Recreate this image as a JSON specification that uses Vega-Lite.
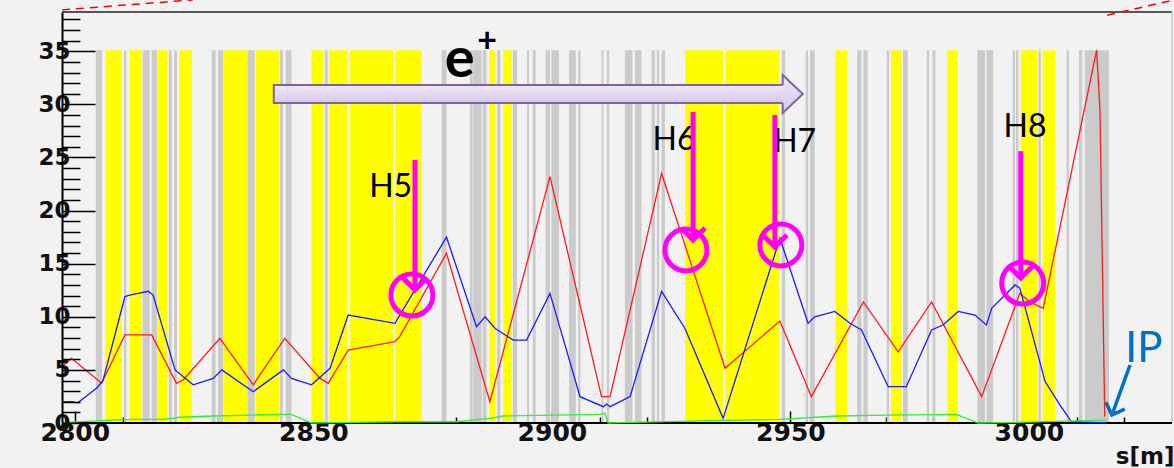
{
  "$schema": "https://vega.github.io/schema/vega-lite/v6.json",
  "width": 1110,
  "height": 411,
  "autosize": {"type": "none"},
  "padding": {"left": 62, "top": 12, "right": 2, "bottom": 45},
  "background": "#f2f2f2",
  "view": {"stroke": null, "fill": "#f2f2f2"},
  "datasets": {
    "bandlist": [
      {"s": 2804.4, "s2": 2805.7, "lo": 0, "hi": 35.1, "kind": "gray"},
      {"s": 2806.4, "s2": 2809.8, "lo": 0, "hi": 35.1, "kind": "yellow"},
      {"s": 2810.3, "s2": 2810.8, "lo": 0, "hi": 35.1, "kind": "gray"},
      {"s": 2811.5, "s2": 2814.0, "lo": 0, "hi": 35.1, "kind": "yellow"},
      {"s": 2814.2, "s2": 2815.7, "lo": 0, "hi": 35.1, "kind": "gray"},
      {"s": 2816.1, "s2": 2817.2, "lo": 0, "hi": 35.1, "kind": "gray"},
      {"s": 2817.3, "s2": 2819.4, "lo": 0, "hi": 35.1, "kind": "yellow"},
      {"s": 2819.7, "s2": 2820.3, "lo": 0, "hi": 35.1, "kind": "gray"},
      {"s": 2820.8, "s2": 2821.4, "lo": 0, "hi": 35.1, "kind": "gray"},
      {"s": 2821.9, "s2": 2824.5, "lo": 0, "hi": 35.1, "kind": "yellow"},
      {"s": 2828.7, "s2": 2829.5, "lo": 0, "hi": 35.1, "kind": "gray"},
      {"s": 2830.0, "s2": 2831.1, "lo": 0, "hi": 35.1, "kind": "gray"},
      {"s": 2831.2, "s2": 2836.2, "lo": 0, "hi": 35.1, "kind": "yellow"},
      {"s": 2836.2, "s2": 2837.7, "lo": 0, "hi": 35.1, "kind": "gray"},
      {"s": 2837.9, "s2": 2842.8, "lo": 0, "hi": 35.1, "kind": "yellow"},
      {"s": 2843.0, "s2": 2843.6, "lo": 0, "hi": 35.1, "kind": "gray"},
      {"s": 2844.2, "s2": 2845.4, "lo": 0, "hi": 35.1, "kind": "gray"},
      {"s": 2849.6, "s2": 2852.1, "lo": 0, "hi": 35.1, "kind": "yellow"},
      {"s": 2852.4, "s2": 2853.0, "lo": 0, "hi": 35.1, "kind": "gray"},
      {"s": 2853.3, "s2": 2857.1, "lo": 0, "hi": 35.1, "kind": "yellow"},
      {"s": 2857.7, "s2": 2866.7, "lo": 0, "hi": 35.1, "kind": "yellow"},
      {"s": 2867.2, "s2": 2872.7, "lo": 0, "hi": 35.1, "kind": "yellow"},
      {"s": 2876.9, "s2": 2877.9, "lo": 0, "hi": 35.1, "kind": "gray"},
      {"s": 2882.8, "s2": 2883.4, "lo": 0, "hi": 35.1, "kind": "gray"},
      {"s": 2883.5, "s2": 2885.3, "lo": 0, "hi": 35.1, "kind": "gray"},
      {"s": 2885.5, "s2": 2886.3, "lo": 0, "hi": 35.1, "kind": "gray"},
      {"s": 2886.9, "s2": 2888.1, "lo": 0, "hi": 35.1, "kind": "yellow"},
      {"s": 2888.5, "s2": 2889.2, "lo": 0, "hi": 35.1, "kind": "gray"},
      {"s": 2889.8, "s2": 2891.6, "lo": 0, "hi": 35.1, "kind": "yellow"},
      {"s": 2891.8, "s2": 2892.7, "lo": 0, "hi": 35.1, "kind": "gray"},
      {"s": 2894.8, "s2": 2895.2, "lo": 0, "hi": 35.1, "kind": "gray"},
      {"s": 2896.0, "s2": 2896.6, "lo": 0, "hi": 35.1, "kind": "gray"},
      {"s": 2898.7, "s2": 2899.6, "lo": 0, "hi": 35.1, "kind": "gray"},
      {"s": 2899.9, "s2": 2901.5, "lo": 0, "hi": 35.1, "kind": "gray"},
      {"s": 2903.6, "s2": 2905.0, "lo": 0, "hi": 35.1, "kind": "gray"},
      {"s": 2905.5, "s2": 2906.0, "lo": 0, "hi": 35.1, "kind": "gray"},
      {"s": 2910.4, "s2": 2910.8, "lo": 0, "hi": 35.1, "kind": "gray"},
      {"s": 2911.5, "s2": 2912.0, "lo": 0, "hi": 35.1, "kind": "gray"},
      {"s": 2915.3, "s2": 2916.9, "lo": 0, "hi": 35.1, "kind": "gray"},
      {"s": 2917.4, "s2": 2918.8, "lo": 0, "hi": 35.1, "kind": "gray"},
      {"s": 2920.9, "s2": 2921.6, "lo": 0, "hi": 35.1, "kind": "gray"},
      {"s": 2922.0, "s2": 2922.5, "lo": 0, "hi": 35.1, "kind": "gray"},
      {"s": 2923.0, "s2": 2923.7, "lo": 0, "hi": 35.1, "kind": "gray"},
      {"s": 2927.9, "s2": 2935.9, "lo": 0, "hi": 35.1, "kind": "yellow"},
      {"s": 2936.4, "s2": 2947.6, "lo": 0, "hi": 35.1, "kind": "yellow"},
      {"s": 2948.2, "s2": 2948.9, "lo": 0, "hi": 35.1, "kind": "gray"},
      {"s": 2953.2, "s2": 2953.7, "lo": 0, "hi": 35.1, "kind": "gray"},
      {"s": 2954.1, "s2": 2955.1, "lo": 0, "hi": 35.1, "kind": "gray"},
      {"s": 2959.5, "s2": 2961.9, "lo": 0, "hi": 35.1, "kind": "yellow"},
      {"s": 2964.0, "s2": 2964.9, "lo": 0, "hi": 35.1, "kind": "gray"},
      {"s": 2965.3, "s2": 2966.2, "lo": 0, "hi": 35.1, "kind": "gray"},
      {"s": 2970.2, "s2": 2970.7, "lo": 0, "hi": 35.1, "kind": "gray"},
      {"s": 2971.1, "s2": 2973.3, "lo": 0, "hi": 35.1, "kind": "yellow"},
      {"s": 2973.6, "s2": 2974.6, "lo": 0, "hi": 35.1, "kind": "gray"},
      {"s": 2978.6, "s2": 2979.1, "lo": 0, "hi": 35.1, "kind": "gray"},
      {"s": 2979.8, "s2": 2980.4, "lo": 0, "hi": 35.1, "kind": "gray"},
      {"s": 2982.9, "s2": 2985.0, "lo": 0, "hi": 35.1, "kind": "yellow"},
      {"s": 2989.2, "s2": 2990.8, "lo": 0, "hi": 35.1, "kind": "gray"},
      {"s": 2991.1, "s2": 2992.5, "lo": 0, "hi": 35.1, "kind": "gray"},
      {"s": 2996.6, "s2": 2997.1, "lo": 0, "hi": 35.1, "kind": "gray"},
      {"s": 2997.3, "s2": 2997.8, "lo": 0, "hi": 35.1, "kind": "gray"},
      {"s": 2998.3, "s2": 3001.7, "lo": 0, "hi": 35.1, "kind": "yellow"},
      {"s": 3002.0, "s2": 3002.5, "lo": 0, "hi": 35.1, "kind": "gray"},
      {"s": 3002.9, "s2": 3005.5, "lo": 0, "hi": 35.1, "kind": "yellow"},
      {"s": 3007.9, "s2": 3008.4, "lo": 0, "hi": 35.1, "kind": "gray"},
      {"s": 3010.5, "s2": 3011.2, "lo": 0, "hi": 35.1, "kind": "gray"},
      {"s": 3011.7, "s2": 3016.8, "lo": 0, "hi": 35.1, "kind": "gray"}
    ],
    "optics": [
      {"series": "betaX", "s": 2797.3, "v": 5.3},
      {"series": "betaX", "s": 2799.3, "v": 6.09},
      {"series": "betaX", "s": 2805.6, "v": 3.74},
      {"series": "betaX", "s": 2810.5, "v": 8.29},
      {"series": "betaX", "s": 2816.1, "v": 8.29},
      {"series": "betaX", "s": 2821.3, "v": 3.74},
      {"series": "betaX", "s": 2822.7, "v": 4.05},
      {"series": "betaX", "s": 2830.4, "v": 7.97},
      {"series": "betaX", "s": 2837.4, "v": 3.6},
      {"series": "betaX", "s": 2844.0, "v": 7.97},
      {"series": "betaX", "s": 2851.4, "v": 4.2},
      {"series": "betaX", "s": 2853.1, "v": 3.74},
      {"series": "betaX", "s": 2857.3, "v": 6.87},
      {"series": "betaX", "s": 2867.1, "v": 7.66},
      {"series": "betaX", "s": 2868.1, "v": 8.13},
      {"series": "betaX", "s": 2877.9, "v": 15.98},
      {"series": "betaX", "s": 2887.0, "v": 2.0},
      {"series": "betaX", "s": 2899.6, "v": 23.2},
      {"series": "betaX", "s": 2910.4, "v": 2.48},
      {"series": "betaX", "s": 2912.2, "v": 2.48},
      {"series": "betaX", "s": 2923.0, "v": 23.5},
      {"series": "betaX", "s": 2936.3, "v": 5.15},
      {"series": "betaX", "s": 2947.8, "v": 9.6},
      {"series": "betaX", "s": 2954.4, "v": 2.48},
      {"series": "betaX", "s": 2965.3, "v": 11.4},
      {"series": "betaX", "s": 2972.6, "v": 6.7},
      {"series": "betaX", "s": 2979.6, "v": 11.4},
      {"series": "betaX", "s": 2990.1, "v": 2.48},
      {"series": "betaX", "s": 2998.1, "v": 12.2},
      {"series": "betaX", "s": 3000.2, "v": 11.4},
      {"series": "betaX", "s": 3003.0, "v": 10.8},
      {"series": "betaX", "s": 3014.2, "v": 35.1},
      {"series": "betaX", "s": 3014.9, "v": 29.5},
      {"series": "betaX", "s": 3015.9, "v": 0.6},
      {"series": "betaY", "s": 2797.3, "v": 1.98},
      {"series": "betaY", "s": 2799.4, "v": 2.0},
      {"series": "betaY", "s": 2800.6, "v": 1.9},
      {"series": "betaY", "s": 2804.6, "v": 3.3},
      {"series": "betaY", "s": 2805.9, "v": 4.0},
      {"series": "betaY", "s": 2810.5, "v": 11.9},
      {"series": "betaY", "s": 2811.5, "v": 12.05},
      {"series": "betaY", "s": 2815.4, "v": 12.4},
      {"series": "betaY", "s": 2816.4, "v": 12.05},
      {"series": "betaY", "s": 2821.0, "v": 5.0},
      {"series": "betaY", "s": 2824.8, "v": 3.6},
      {"series": "betaY", "s": 2829.0, "v": 4.2},
      {"series": "betaY", "s": 2830.8, "v": 5.0},
      {"series": "betaY", "s": 2837.4, "v": 2.95},
      {"series": "betaY", "s": 2843.7, "v": 5.0},
      {"series": "betaY", "s": 2845.4, "v": 4.2},
      {"series": "betaY", "s": 2849.6, "v": 3.6},
      {"series": "betaY", "s": 2853.5, "v": 5.15},
      {"series": "betaY", "s": 2857.3, "v": 10.17},
      {"series": "betaY", "s": 2867.1, "v": 9.39},
      {"series": "betaY", "s": 2877.9, "v": 17.5},
      {"series": "betaY", "s": 2884.2, "v": 9.07},
      {"series": "betaY", "s": 2886.0, "v": 10.0},
      {"series": "betaY", "s": 2888.1, "v": 8.9},
      {"series": "betaY", "s": 2891.9, "v": 7.8},
      {"series": "betaY", "s": 2894.7, "v": 7.8},
      {"series": "betaY", "s": 2899.6, "v": 12.2},
      {"series": "betaY", "s": 2905.9, "v": 2.48},
      {"series": "betaY", "s": 2910.8, "v": 1.54},
      {"series": "betaY", "s": 2911.5, "v": 1.79},
      {"series": "betaY", "s": 2912.2, "v": 1.54},
      {"series": "betaY", "s": 2916.4, "v": 2.48},
      {"series": "betaY", "s": 2923.0, "v": 12.4},
      {"series": "betaY", "s": 2927.9, "v": 8.9},
      {"series": "betaY", "s": 2935.9, "v": 0.44},
      {"series": "betaY", "s": 2947.8, "v": 17.4},
      {"series": "betaY", "s": 2953.7, "v": 9.39},
      {"series": "betaY", "s": 2955.1, "v": 10.0},
      {"series": "betaY", "s": 2959.3, "v": 10.5},
      {"series": "betaY", "s": 2962.5, "v": 9.39},
      {"series": "betaY", "s": 2964.9, "v": 8.76},
      {"series": "betaY", "s": 2970.5, "v": 3.42},
      {"series": "betaY", "s": 2974.3, "v": 3.42},
      {"series": "betaY", "s": 2979.6, "v": 8.76},
      {"series": "betaY", "s": 2982.0, "v": 9.23},
      {"series": "betaY", "s": 2985.2, "v": 10.5},
      {"series": "betaY", "s": 2988.7, "v": 10.17},
      {"series": "betaY", "s": 2991.1, "v": 9.23},
      {"series": "betaY", "s": 2992.2, "v": 10.8},
      {"series": "betaY", "s": 2997.1, "v": 13.0},
      {"series": "betaY", "s": 2998.1, "v": 12.7},
      {"series": "betaY", "s": 3003.4, "v": 3.9},
      {"series": "betaY", "s": 3006.5, "v": 1.7},
      {"series": "betaY", "s": 3008.9, "v": 0.12},
      {"series": "betaY", "s": 3016.3, "v": 0.0},
      {"series": "eta", "s": 2797.3, "v": 0.03},
      {"series": "eta", "s": 2805.2, "v": 0.22},
      {"series": "eta", "s": 2812.2, "v": 0.35},
      {"series": "eta", "s": 2818.5, "v": 0.35},
      {"series": "eta", "s": 2822.0, "v": 0.54},
      {"series": "eta", "s": 2829.0, "v": 0.66},
      {"series": "eta", "s": 2837.4, "v": 0.75},
      {"series": "eta", "s": 2843.0, "v": 0.82},
      {"series": "eta", "s": 2845.4, "v": 0.82},
      {"series": "eta", "s": 2849.6, "v": 0.0},
      {"series": "eta", "s": 2854.0, "v": 0.03},
      {"series": "eta", "s": 2868.0, "v": 0.12},
      {"series": "eta", "s": 2880.0, "v": 0.12},
      {"series": "eta", "s": 2887.0, "v": 0.44},
      {"series": "eta", "s": 2889.8, "v": 0.66},
      {"series": "eta", "s": 2910.1, "v": 0.82},
      {"series": "eta", "s": 2911.1, "v": 0.91},
      {"series": "eta", "s": 2911.8, "v": 0.0},
      {"series": "eta", "s": 2914.3, "v": 0.03},
      {"series": "eta", "s": 2933.8, "v": 0.22},
      {"series": "eta", "s": 2947.8, "v": 0.35},
      {"series": "eta", "s": 2959.7, "v": 0.66},
      {"series": "eta", "s": 2970.2, "v": 0.75},
      {"series": "eta", "s": 2984.8, "v": 0.82},
      {"series": "eta", "s": 2989.4, "v": 0.0},
      {"series": "eta", "s": 2994.6, "v": 0.03},
      {"series": "eta", "s": 3016.3, "v": 0.28}
    ],
    "shaft": [{"s": 2841.7, "s2": 2949.5, "v": 31.83, "v2": 30.13}],
    "head": [{"s": 2950.5, "v": 30.98}],
    "beam": [{"s": 2880.7, "v": 32.58, "t": "e"}],
    "charge": [{"s": 2886.4, "v": 35.9, "t": "+"}],
    "holes": [
      {"name": "H5", "s": 2871.3, "vtop": 24.76, "vtip": 12.52, "cs": 2870.65, "cv": 12.05, "ls": 2866.2, "lv": 21.28},
      {"name": "H6", "s": 2929.6, "vtop": 29.28, "vtip": 17.23, "cs": 2928.1, "cv": 16.29, "ls": 2925.6, "lv": 25.7},
      {"name": "H7", "s": 2946.75, "vtop": 29.0, "vtip": 16.57, "cs": 2948.0, "cv": 16.76, "ls": 2950.9, "lv": 25.5},
      {"name": "H8", "s": 2998.3, "vtop": 25.6, "vtip": 13.65, "cs": 2998.7, "cv": 13.18, "ls": 2999.2, "lv": 26.9}
    ],
    "ip": [{"t": "IP", "s": 3024.1, "v": 5.74}],
    "ipArrow": [{"s": 3021.2, "v": 5.46, "s2": 3017.4, "v2": 0.75}],
    "ipHead": [{"s": 3017.4, "v": 0.75}],
    "guides": [
      {"s": 2797.3, "v": 38.9, "s2": 2824.7, "v2": 39.84},
      {"s": 3016.4, "v": 38.4, "s2": 3030.4, "v2": 39.84}
    ],
    "frame": [{"s": 2797.3, "s2": 3030, "top": 38.7, "bottom": 0}]
  },
  "encoding": {
    "x": {
      "field": "s",
      "type": "quantitative",
      "scale": {"domain": [2797.3, 3030], "nice": false, "zero": false},
      "axis": {
        "title": "s[m]",
        "orient": "bottom",
        "values": [2800, 2810, 2820, 2830, 2840, 2850, 2860, 2870, 2880, 2890, 2900, 2910, 2920, 2930, 2940, 2950, 2960, 2970, 2980, 2990, 3000, 3010, 3020],
        "format": "d",
        "labelExpr": "datum.value % 50 === 0 ? datum.label : ''",
        "domain": false,
        "grid": false,
        "tickColor": "#000000",
        "tickWidth": 1.5,
        "tickSize": {"condition": {"test": "datum.value % 50 === 0", "value": -12}, "value": -6},
        "labelPadding": 9,
        "labelFont": "DejaVu Sans",
        "labelFontWeight": "bold",
        "labelFontSize": 25,
        "labelColor": "#111111",
        "labelBaseline": "top",
        "labelAlign": "center",
        "labelOverlap": false,
        "labelFlush": false,
        "zindex": 0,
        "titleFont": "DejaVu Sans",
        "titleFontWeight": "bold",
        "titleFontSize": 23,
        "titleColor": "#111111",
        "titleAnchor": "end",
        "titleAlign": "right",
        "titleX": 1112,
        "titleY": 40,
        "titleBaseline": "alphabetic"
      }
    },
    "y": {
      "field": "v",
      "type": "quantitative",
      "scale": {"domain": [0, 38.7], "nice": false, "zero": false},
      "axis": {
        "title": null,
        "orient": "left",
        "values": [0, 1, 2, 3, 4, 5, 6, 7, 8, 9, 10, 11, 12, 13, 14, 15, 16, 17, 18, 19, 20, 21, 22, 23, 24, 25, 26, 27, 28, 29, 30, 31, 32, 33, 34, 35, 36, 37, 38],
        "labelExpr": "datum.value % 5 === 0 ? datum.label : ''",
        "domain": true,
        "domainColor": "#000000",
        "domainWidth": 2,
        "grid": false,
        "tickColor": "#000000",
        "tickWidth": 1.5,
        "tickSize": {"condition": {"test": "datum.value % 5 === 0", "value": -33}, "value": -18},
        "labelPadding": 25,
        "labelFont": "DejaVu Sans",
        "labelFontWeight": "bold",
        "labelFontSize": 23,
        "labelColor": "#111111",
        "labelAlign": "right",
        "labelBaseline": "middle",
        "labelOverlap": false,
        "labelFlush": false,
        "zindex": 1
      }
    }
  },
  "layer": [
    {
      "data": {"name": "bandlist"},
      "mark": {"type": "rect"},
      "encoding": {
        "x2": {"field": "s2"},
        "y": {"field": "hi", "type": "quantitative"},
        "y2": {"field": "lo"},
        "fill": {"field": "kind", "type": "nominal", "scale": {"domain": ["yellow", "gray"], "range": ["#ffff00", "#cbcbcb"]}, "legend": null}
      }
    },
    {
      "data": {"name": "frame"},
      "mark": {"type": "rule", "color": "#555555", "strokeWidth": 2},
      "encoding": {"x2": {"field": "s2"}, "y": {"field": "top", "type": "quantitative"}}
    },
    {
      "data": {"name": "frame"},
      "mark": {"type": "rule", "color": "#c4c4c4", "strokeWidth": 1.5},
      "encoding": {"x": {"field": "s2", "type": "quantitative"}, "y": {"field": "bottom", "type": "quantitative"}, "y2": {"field": "top"}}
    },
    {
      "data": {"name": "frame"},
      "mark": {"type": "rule", "color": "#000000", "strokeWidth": 2},
      "encoding": {"x2": {"field": "s2"}, "y": {"field": "bottom", "type": "quantitative"}}
    },
    {
      "data": {"name": "optics"},
      "mark": {"type": "line", "strokeWidth": 1.3, "interpolate": "linear"},
      "encoding": {
        "stroke": {"field": "series", "type": "nominal", "scale": {"domain": ["betaX", "betaY", "eta"], "range": ["#ff1a1a", "#1a1aff", "#33ee33"]}, "legend": null}
      }
    },
    {
      "data": {"name": "shaft"},
      "mark": {
        "type": "rect",
        "stroke": "#8064a2",
        "strokeWidth": 2,
        "fill": {"gradient": "linear", "x1": 0, "y1": 0, "x2": 0, "y2": 1, "stops": [{"offset": 0, "color": "#eee8f7"}, {"offset": 1, "color": "#d6c9eb"}]}
      },
      "encoding": {"x2": {"field": "s2"}, "y2": {"field": "v2"}}
    },
    {
      "data": {"name": "head"},
      "mark": {
        "type": "point",
        "shape": "M-0.53,-0.47L-0.53,-1L0.53,0L-0.53,1L-0.53,0.47",
        "size": 1444,
        "filled": true,
        "opacity": 1,
        "fill": {"gradient": "linear", "x1": 0, "y1": 0, "x2": 0, "y2": 1, "stops": [{"offset": 0, "color": "#eee8f7"}, {"offset": 1, "color": "#d6c9eb"}]},
        "stroke": "#8064a2",
        "strokeWidth": 2
      }
    },
    {
      "data": {"name": "beam"},
      "mark": {"type": "text", "font": "Lato", "fontWeight": "bold", "fontSize": 56, "align": "center", "baseline": "alphabetic", "color": "#000000"},
      "encoding": {"text": {"field": "t"}}
    },
    {
      "data": {"name": "charge"},
      "mark": {"type": "text", "font": "Lato", "fontWeight": "bold", "fontSize": 34, "align": "center", "baseline": "middle", "color": "#000000"},
      "encoding": {"text": {"field": "t"}}
    },
    {
      "data": {"name": "holes"},
      "mark": {"type": "text", "font": "Lato", "fontSize": 32, "align": "center", "baseline": "alphabetic", "color": "#000000"},
      "encoding": {
        "x": {"field": "ls", "type": "quantitative"},
        "y": {"field": "lv", "type": "quantitative"},
        "text": {"field": "name"}
      }
    },
    {
      "data": {"name": "holes"},
      "mark": {"type": "rule", "color": "#ff00ff", "strokeWidth": 5},
      "encoding": {
        "y": {"field": "vtop", "type": "quantitative"},
        "y2": {"field": "vtip"}
      }
    },
    {
      "data": {"name": "holes"},
      "mark": {"type": "point", "shape": "M-1,-1L0,0L1,-1", "size": 576, "filled": false, "opacity": 1, "stroke": "#ff00ff", "strokeWidth": 5},
      "encoding": {
        "y": {"field": "vtip", "type": "quantitative"}
      }
    },
    {
      "data": {"name": "holes"},
      "mark": {"type": "point", "shape": "circle", "size": 1764, "filled": false, "opacity": 1, "stroke": "#ff00ff", "strokeWidth": 5},
      "encoding": {
        "x": {"field": "cs", "type": "quantitative"},
        "y": {"field": "cv", "type": "quantitative"}
      }
    },
    {
      "data": {"name": "ip"},
      "mark": {"type": "text", "font": "Lato", "fontSize": 42, "align": "center", "baseline": "alphabetic", "color": "#0070c0"},
      "encoding": {"text": {"field": "t"}}
    },
    {
      "data": {"name": "ipArrow"},
      "mark": {"type": "rule", "color": "#0070c0", "strokeWidth": 3.5},
      "encoding": {"x2": {"field": "s2"}, "y2": {"field": "v2"}}
    },
    {
      "data": {"name": "ipHead"},
      "mark": {"type": "point", "shape": "M-1,-1L0,0L1,-1", "size": 400, "angle": 20, "filled": false, "opacity": 1, "stroke": "#0070c0", "strokeWidth": 3.5}
    },
    {
      "data": {"name": "guides"},
      "mark": {"type": "rule", "color": "#ff0000", "strokeWidth": 1.5, "strokeDash": [8, 6]},
      "encoding": {"x2": {"field": "s2"}, "y2": {"field": "v2"}}
    }
  ]
}
